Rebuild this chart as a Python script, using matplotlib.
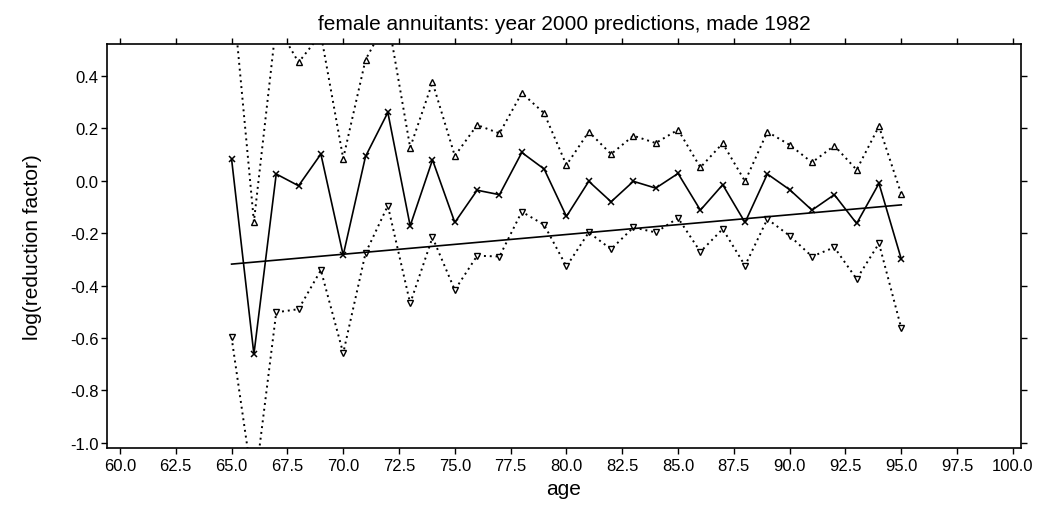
import matplotlib
matplotlib.use("Agg")
import matplotlib.pyplot as plt
import numpy as np

plt.rcParams['font.family'] = ['Liberation Sans', 'DejaVu Sans']

ages = list(range(65, 96))
central = [0.083, -0.662, 0.026, -0.019, 0.102, -0.284, 0.093, 0.261, -0.172,
           0.080, -0.159, -0.036, -0.053, 0.108, 0.045, -0.136, -0.002, -0.080,
           -0.002, -0.028, 0.028, -0.112, -0.015, -0.159, 0.026, -0.034, -0.112,
           -0.053, -0.163, -0.010, -0.299]
upper = [0.76, -0.156, 0.60, 0.452, 0.56, 0.085, 0.462, 0.62, 0.127,
         0.376, 0.095, 0.213, 0.181, 0.335, 0.258, 0.060, 0.187, 0.102,
         0.172, 0.144, 0.195, 0.051, 0.143, -0.002, 0.187, 0.137, 0.070,
         0.134, 0.042, 0.208, -0.051]
lower = [-0.598, -1.19, -0.502, -0.490, -0.341, -0.658, -0.276, -0.095, -0.468,
         -0.216, -0.417, -0.286, -0.289, -0.118, -0.168, -0.327, -0.197, -0.261,
         -0.178, -0.197, -0.142, -0.271, -0.184, -0.324, -0.146, -0.210, -0.289,
         -0.254, -0.375, -0.239, -0.563]
trend_ages = [65, 95]
trend_vals = [-0.318, -0.092]

xticks = np.arange(60, 100.1, 2.5)
yticks = [-1.0, -0.8, -0.6, -0.4, -0.2, 0.0, 0.2, 0.4]

fig = plt.figure(figsize=(10.42, 5.06), dpi=100)
ax = fig.add_axes([0.1027, 0.1126, 0.9798 - 0.1027, 0.911 - 0.1126])

dot = (0, (1, 2))
ax.plot(ages, upper, color='black', linestyle=dot, linewidth=1.4,
        marker='^', markersize=5, markerfacecolor='white', markeredgecolor='black',
        markeredgewidth=1.0)
ax.plot(ages, lower, color='black', linestyle=dot, linewidth=1.4,
        marker='v', markersize=5, markerfacecolor='white', markeredgecolor='black',
        markeredgewidth=1.0)
ax.plot(ages, central, color='black', linestyle='-', linewidth=1.2,
        marker='x', markersize=5, markeredgewidth=1.1)
ax.plot(trend_ages, trend_vals, color='black', linestyle='-', linewidth=1.2)

ax.set_xlim(59.42, 100.36)
ax.set_ylim(-1.02, 0.522)
ax.set_xticks(xticks)
ax.set_xticklabels([f"{t:.1f}" for t in xticks])
ax.set_yticks(yticks)
ax.set_yticklabels([f"{t:.1f}" for t in yticks])
ax.tick_params(direction='out', length=4, width=1, labelsize=12,
               top=True, right=True, labeltop=False, labelright=False)
ax.tick_params(axis='y', pad=2)
for s in ax.spines.values():
    s.set_linewidth(1.2)

ax.set_title("female annuitants: year 2000 predictions, made 1982", fontsize=15, pad=11)
ax.set_xlabel("age", fontsize=15, labelpad=4)
ax.set_ylabel("log(reduction factor)", fontsize=15, labelpad=20)

fig.savefig("out.png", dpi=100)
